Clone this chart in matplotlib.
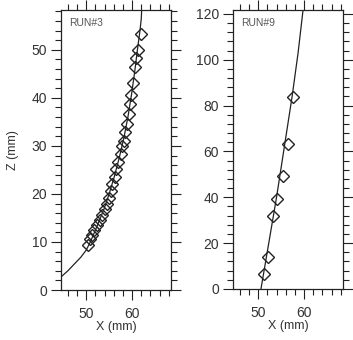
import matplotlib
matplotlib.use("Agg")
import matplotlib.pyplot as plt
from matplotlib.ticker import MultipleLocator

plt.rcParams['font.family'] = ['Liberation Sans', 'DejaVu Sans']

# RUN#3 measured jet-centreline points
run3_x = [50.4, 50.9, 51.3, 51.8, 52.3, 52.9, 53.4, 54.0, 54.5, 54.9, 55.4, 55.7,
          56.2, 56.6, 57.0, 57.5, 57.9, 58.2, 58.5, 58.9, 59.3, 59.6, 59.8, 60.2,
          60.6, 60.9, 61.2, 61.9]
run3_z = [9.3, 10.6, 11.5, 12.5, 13.5, 14.6, 15.6, 16.8, 17.9, 19.2, 20.6, 22.1,
          23.6, 25.1, 26.6, 28.3, 29.9, 31.0, 32.8, 34.6, 36.6, 38.75, 40.6, 43.1,
          46.5, 48.3, 50.0, 53.3]
# RUN#3 predicted trajectory
run3_fit_x = [44.6, 46.0, 47.4, 48.8, 50.0, 50.9, 51.8, 52.8, 53.9, 55.0, 56.1,
              57.2, 58.2, 59.1, 59.9, 60.6, 61.2, 61.7, 62.0, 62.1]
run3_fit_z = [2.8, 4.0, 5.4, 6.8, 8.3, 10.0, 12.0, 14.3, 16.9, 20.0, 23.5,
              27.5, 31.6, 36.0, 40.8, 45.6, 50.2, 53.8, 56.3, 58.3]

# RUN#9 measured points and predicted trajectory
run9_x = [51.2, 52.2, 53.2, 54.2, 55.3, 56.4, 57.5]
run9_z = [6.5, 13.8, 32.0, 39.3, 49.3, 63.1, 83.6]
run9_fit_x = [50.6, 52.3, 54.0, 55.7, 57.4, 58.7, 59.8]
run9_fit_z = [0.0, 20.0, 40.0, 62.0, 84.0, 103.0, 122.0]

x_ticks = [50, 60]

fig = plt.figure(figsize=(3.53, 3.40), dpi=100)
ax1 = fig.add_axes([61 / 353, 1 - 290 / 340, 110 / 353, 280 / 340])
ax2 = fig.add_axes([233 / 353, 1 - 289 / 340, 110 / 353, 279 / 340])

ink = '#222222'
txt = '#333333'


def style(ax, ymax, ymaj, ymin, name):
    ax.set_xlim(44.5, 68.5)
    ax.set_ylim(0, ymax)
    ax.set_xticks(x_ticks)
    ax.xaxis.set_minor_locator(MultipleLocator(2))
    ax.yaxis.set_major_locator(MultipleLocator(ymaj))
    ax.yaxis.set_minor_locator(MultipleLocator(ymin))
    ax.tick_params(which='both', direction='out', top=True, right=True,
                   color=ink, labelcolor=txt, labelsize=10, width=0.8)
    ax.tick_params(which='major', length=7, pad=3)
    ax.tick_params(axis='x', which='major', pad=5)
    ax.tick_params(which='minor', length=4)
    for s in ax.spines.values():
        s.set_color(ink)
        s.set_linewidth(0.9)
    ax.set_xlabel('X (mm)', fontsize=9, color=txt, labelpad=0)
    ax.text(0.07, 0.955, name, transform=ax.transAxes, fontsize=7.5,
            color='#555555', ha='left', va='center')


style(ax1, 58.3, 10, 2, 'RUN#3')
style(ax2, 121.7, 20, 4, 'RUN#9')
ax1.set_ylabel('Z (mm)', fontsize=9, color=txt, labelpad=9)

ax1.plot(run3_fit_x, run3_fit_z, color=ink, lw=0.9, clip_on=True)
ax1.plot(run3_x, run3_z, linestyle='none', marker='D', markersize=6.3,
         markerfacecolor='none', markeredgecolor=ink, markeredgewidth=1.0)

ax2.plot(run9_fit_x, run9_fit_z, color=ink, lw=0.9)
ax2.plot(run9_x, run9_z, linestyle='none', marker='D', markersize=6.3,
         markerfacecolor='none', markeredgecolor=ink, markeredgewidth=1.0)

fig.savefig('out.png', dpi=100)
